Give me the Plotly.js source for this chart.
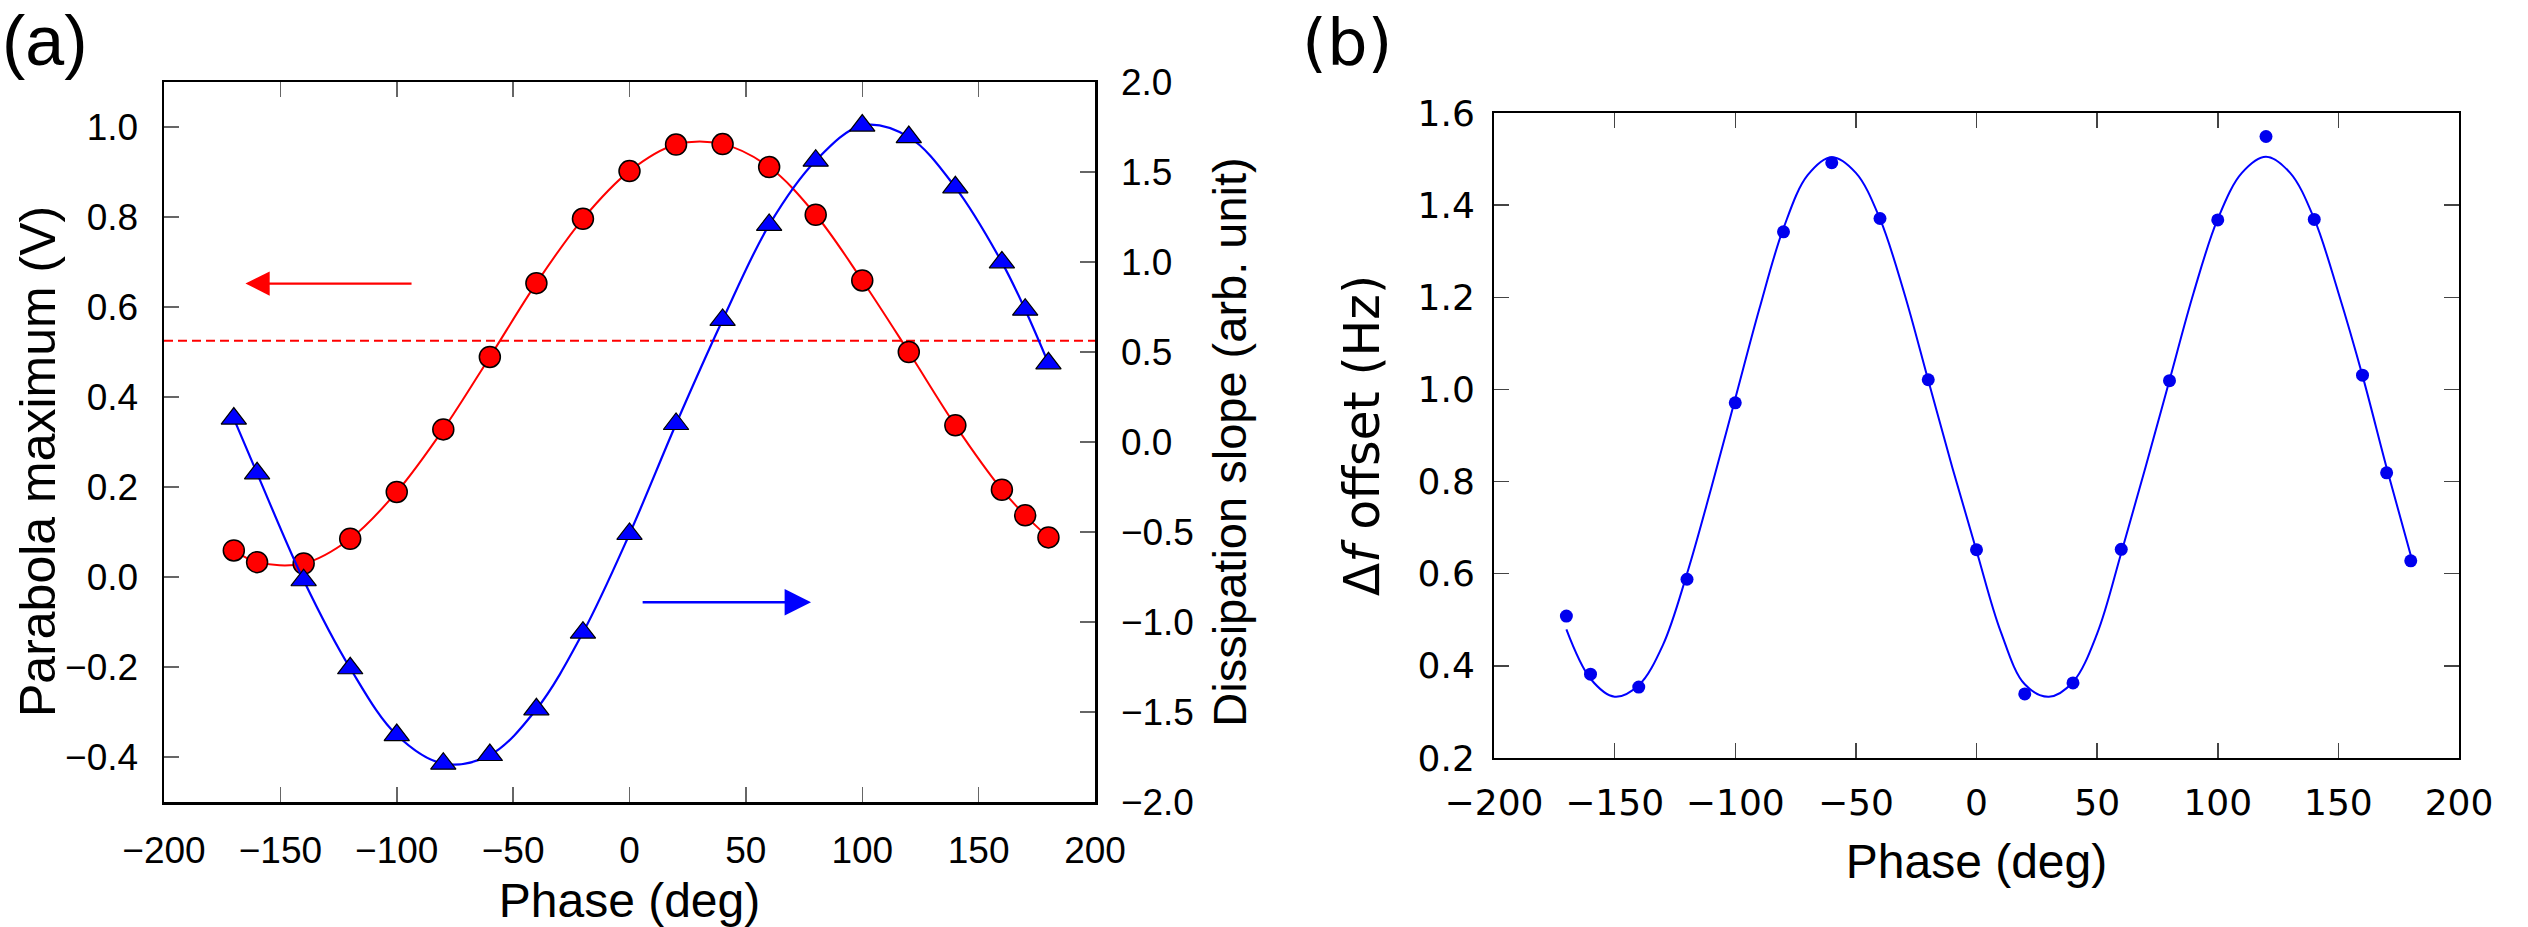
<!DOCTYPE html>
<html>
<head>
<meta charset="utf-8">
<script src="https://cdn.plot.ly/plotly-3.0.1.min.js"></script>
<style>
  html, body { margin: 0; padding: 0; background: #ffffff; }
  #chart { width: 2528px; height: 927px; }
</style>
</head>
<body>
<div id="chart"></div>
<script>
// ---- Panel (a): parabola maximum (left axis) and dissipation slope (right axis) vs phase
const phaseA = [-170, -160, -140, -120, -100, -80, -60, -40, -20, 0, 20, 40, 60, 80, 100, 120, 140, 160, 170, 180];
const parabolaMax = [0.059, 0.033, 0.030, 0.085, 0.189, 0.328, 0.489, 0.653, 0.796, 0.902, 0.961, 0.962, 0.911, 0.805, 0.659, 0.500, 0.337, 0.194, 0.137, 0.088];
const dissipationSlope = [0.130, -0.174, -0.768, -1.257, -1.628, -1.787, -1.739, -1.485, -1.059, -0.511, 0.100, 0.678, 1.206, 1.563, 1.758, 1.694, 1.415, 0.998, 0.735, 0.437];
const referenceLevel = 0.525;            // dashed reference line, parabola-maximum axis
const leftArrow = { from: -93, to: -165, level: 0.652 };   // points to the left axis
const rightArrow = { from: 5, to: 78, level: -0.056 };     // points to the right axis

// ---- Panel (b): frequency-shift offset vs phase, measured points and fitted curve
const phaseB = [-170, -160, -140, -120, -100, -80, -60, -40, -20, 0, 20, 40, 60, 80, 100, 120, 140, 160, 170, 180];
const dfOffset = [0.508, 0.382, 0.354, 0.588, 0.971, 1.342, 1.492, 1.371, 1.021, 0.652, 0.339, 0.363, 0.653, 1.019, 1.368, 1.549, 1.369, 1.031, 0.819, 0.628];
const fitPhase = [-170, -160, -150, -140, -130, -120, -110, -100, -90, -80, -70, -60, -50, -40, -30, -20, -10, 0, 10, 20, 30, 40, 50, 60, 70, 80, 90, 100, 110, 120, 130, 140, 150, 160, 170, 180];
const fitOffset = [0.479, 0.372, 0.333, 0.358, 0.445, 0.600, 0.785, 0.980, 1.175, 1.350, 1.465, 1.504, 1.470, 1.370, 1.210, 1.020, 0.830, 0.650, 0.475, 0.360, 0.333, 0.365, 0.470, 0.645, 0.830, 1.020, 1.210, 1.370, 1.470, 1.505, 1.470, 1.370, 1.210, 1.030, 0.830, 0.640];

// ---- Tick values
const phaseTicks = [-200, -150, -100, -50, 0, 50, 100, 150, 200];
const leftTicks = [-0.4, -0.2, 0.0, 0.2, 0.4, 0.6, 0.8, 1.0];
const rightTicks = [-2.0, -1.5, -1.0, -0.5, 0.0, 0.5, 1.0, 1.5, 2.0];
const offsetTicks = [0.2, 0.4, 0.6, 0.8, 1.0, 1.2, 1.4, 1.6];

// ---- Page geometry (pixels) of the two plot frames
const W = 2528, H = 927;
const frameA = { l: 164, r: 1095, t: 82, b: 802 };
const frameB = { l: 1494, r: 2459, t: 113, b: 758 };
const xDom = f => [f.l / W, f.r / W];
const yDom = f => [1 - f.b / H, 1 - f.t / H];

const HELV = 'Liberation Sans, Arial, Helvetica, sans-serif';
const DEJA = 'DejaVu Sans, sans-serif';

const traces = [
  {
    x: phaseA, y: parabolaMax, xaxis: 'x', yaxis: 'y',
    mode: 'lines+markers', type: 'scatter',
    line: { color: '#ff0000', width: 2, shape: 'spline', smoothing: 1 },
    marker: { symbol: 'circle', size: 21, color: '#ff0000', line: { color: '#000000', width: 1.5 } },
    hoverinfo: 'skip'
  },
  {
    x: phaseA, y: dissipationSlope, xaxis: 'x', yaxis: 'y2',
    mode: 'lines+markers', type: 'scatter',
    line: { color: '#0000ff', width: 2.2, shape: 'spline', smoothing: 1 },
    marker: { symbol: 'triangle-up', size: 22, color: '#0000ff', line: { color: '#000000', width: 1.2 } },
    hoverinfo: 'skip'
  },
  {
    x: fitPhase, y: fitOffset, xaxis: 'x2', yaxis: 'y3',
    mode: 'lines', type: 'scatter',
    line: { color: '#0000ff', width: 2, shape: 'spline', smoothing: 1 },
    hoverinfo: 'skip'
  },
  {
    x: phaseB, y: dfOffset, xaxis: 'x2', yaxis: 'y3',
    mode: 'markers', type: 'scatter',
    marker: { symbol: 'circle', size: 13, color: '#0000ee' },
    hoverinfo: 'skip'
  }
];

const tickStyleA = {
  ticks: 'inside', ticklen: 15, tickwidth: 1.5, tickcolor: '#666666',
  showline: true, linecolor: '#000000', linewidth: 2.5,
  showgrid: false, zeroline: false,
  tickfont: { family: HELV, size: 37, color: '#000000' }
};
const tickStyleB = {
  ticks: 'inside', ticklen: 15, tickwidth: 1.5, tickcolor: '#444444',
  showline: true, linecolor: '#000000', linewidth: 2,
  showgrid: false, zeroline: false,
  tickfont: { family: DEJA, size: 36, color: '#000000' }
};

const layout = {
  width: W, height: H, autosize: false,
  margin: { l: 0, r: 0, t: 0, b: 0, pad: 0 },
  paper_bgcolor: '#ffffff', plot_bgcolor: '#ffffff',
  showlegend: false,
  xaxis: Object.assign({}, tickStyleA, {
    domain: xDom(frameA), anchor: 'y', range: [-200, 200],
    tickvals: phaseTicks, mirror: 'ticks', ticklabelstandoff: 14,
    title: { text: 'Phase (deg)', font: { family: HELV, size: 48, color: '#000' }, standoff: 16 }
  }),
  yaxis: Object.assign({}, tickStyleA, {
    domain: yDom(frameA), anchor: 'x', range: [-0.5, 1.1],
    tickvals: leftTicks, tickformat: '.1f', ticklabelstandoff: 16
  }),
  yaxis2: Object.assign({}, tickStyleA, {
    overlaying: 'y', side: 'right', anchor: 'x', range: [-2.0, 2.0],
    tickvals: rightTicks, tickformat: '.1f', ticklabelstandoff: 16,
    title: { text: 'Dissipation slope (arb. unit)', font: { family: HELV, size: 47, color: '#000' }, standoff: 20 }
  }),
  xaxis2: Object.assign({}, tickStyleB, {
    domain: xDom(frameB), anchor: 'y3', range: [-200, 200],
    tickvals: phaseTicks, mirror: 'ticks', ticklabelstandoff: 12,
    title: { text: 'Phase (deg)', font: { family: HELV, size: 48, color: '#000' }, standoff: 22 }
  }),
  yaxis3: Object.assign({}, tickStyleB, {
    domain: yDom(frameB), anchor: 'x2', range: [0.2, 1.6],
    tickvals: offsetTicks, tickformat: '.1f', mirror: 'ticks', ticklabelstandoff: 10,
    title: { text: 'Δ<i>f</i> offset (Hz)', font: { family: DEJA, size: 49, color: '#000' }, standoff: 22 }
  }),
  shapes: [
    {
      type: 'line', xref: 'x domain', yref: 'y', x0: 0, x1: 1, y0: referenceLevel, y1: referenceLevel,
      line: { color: '#ff0000', width: 2, dash: '9px,5px' }, layer: 'below'
    }
  ],
  annotations: [
    {
      // left-axis title, set a little below the axis centre
      xref: 'paper', yref: 'paper', x: 38 / W, y: 1 - 462 / H, xanchor: 'center', yanchor: 'middle',
      text: 'Parabola maximum (V)', textangle: -90, showarrow: false,
      font: { family: HELV, size: 50, color: '#000' }
    },
    {
      xref: 'x', yref: 'y', axref: 'x', ayref: 'y',
      x: leftArrow.to, y: leftArrow.level, ax: leftArrow.from, ay: leftArrow.level,
      text: '', showarrow: true, arrowhead: 2, arrowsize: 2.2, arrowwidth: 2.2, arrowcolor: '#ff0000'
    },
    {
      xref: 'x', yref: 'y', axref: 'x', ayref: 'y',
      x: rightArrow.to, y: rightArrow.level, ax: rightArrow.from, ay: rightArrow.level,
      text: '', showarrow: true, arrowhead: 2, arrowsize: 2.2, arrowwidth: 2.4, arrowcolor: '#0000ff'
    },
    {
      xref: 'paper', yref: 'paper', x: 0, y: 1.0, xanchor: 'left', yanchor: 'top',
      text: '(a)', showarrow: false, font: { family: HELV, size: 70, color: '#000' }
    },
    {
      xref: 'paper', yref: 'paper', x: 1300 / W, y: 1 - 4 / H, xanchor: 'left', yanchor: 'top',
      text: '(b)', showarrow: false, font: { family: DEJA, size: 64, color: '#000' }
    }
  ]
};

Plotly.newPlot('chart', traces, layout, { staticPlot: true, displayModeBar: false });
</script>
</body>
</html>
